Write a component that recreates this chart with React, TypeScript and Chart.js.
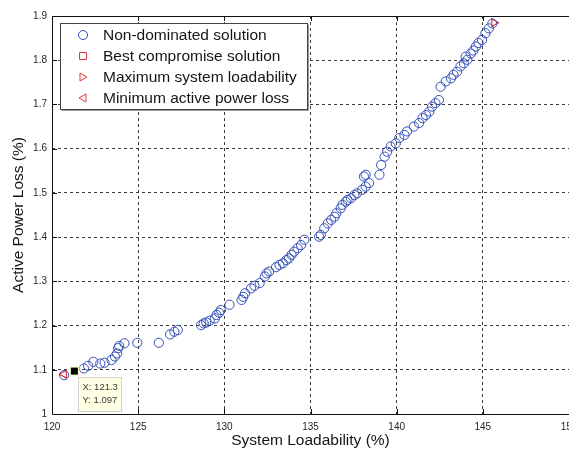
import React, { useEffect, useRef } from "react";
import { Chart, registerables } from "chart.js";

Chart.register(...registerables);

const nonDominatedX = [
  120.7, 121.85, 122.1, 122.4, 122.8, 123.05, 123.45, 123.65, 123.78, 123.84, 123.9, 124.2, 124.95,
  126.2, 126.85, 127.1, 127.3, 128.65, 128.8, 128.95, 129.15, 129.45, 129.55, 129.7, 129.8,
  130.3, 131.0, 131.1, 131.2, 131.55, 131.75, 132.05, 132.35, 132.45, 132.6, 133.0, 133.2,
  133.4, 133.6, 133.75, 133.9, 134.05, 134.25, 134.45, 134.65, 135.5, 135.6, 135.8, 136.0,
  136.2, 136.4, 136.5, 136.75, 136.85, 137.05, 137.15, 137.35, 137.55, 137.7, 138.0, 138.2,
  138.4, 138.1, 138.2, 139.0, 139.1, 139.3, 139.45, 139.65, 139.95, 140.15, 140.45, 140.6,
  141.0, 141.3, 141.5, 141.7, 141.9, 142.05, 142.25, 142.45, 142.55, 142.85, 143.15, 143.3,
  143.5, 143.7, 143.9, 144.1, 144.0, 144.3, 144.45, 144.6, 144.75, 144.95, 145.15, 145.35, 145.55,
];
const nonDominatedY = [
  1.088, 1.103, 1.109, 1.118, 1.114, 1.116, 1.122, 1.13, 1.137, 1.149, 1.154, 1.16, 1.161,
  1.161, 1.18, 1.186, 1.19, 1.201, 1.205, 1.207, 1.211, 1.216, 1.224, 1.229, 1.235,
  1.247, 1.258, 1.265, 1.273, 1.284, 1.29, 1.296, 1.311, 1.318, 1.322, 1.332, 1.337,
  1.341, 1.348, 1.352, 1.36, 1.367, 1.375, 1.382, 1.394, 1.401, 1.405, 1.42, 1.431,
  1.439, 1.446, 1.454, 1.465, 1.473, 1.48, 1.484, 1.488, 1.495, 1.499, 1.507, 1.514,
  1.522, 1.537, 1.541, 1.541, 1.563, 1.582, 1.593, 1.605, 1.612, 1.624, 1.631, 1.639,
  1.65, 1.658, 1.669, 1.676, 1.684, 1.695, 1.703, 1.71, 1.74, 1.752, 1.759, 1.767,
  1.774, 1.786, 1.793, 1.801, 1.808, 1.815, 1.822, 1.831, 1.839, 1.846, 1.861, 1.872, 1.883,
];

const bestCompromise = { x: 121.3, y: 1.097 };
const maxLoadability = { x: 145.65, y: 1.885 };
const minLoss = { x: 120.7, y: 1.09 };
const dataTip = { x: 121.3, y: 1.097 };

const seriesLabels = [
  "Non-dominated solution",
  "Best compromise solution",
  "Maximum system loadability",
  "Minimum active power loss",
];

const xTicks = [120, 125, 130, 135, 140, 145, 150];
const yTicks = [1, 1.1, 1.2, 1.3, 1.4, 1.5, 1.6, 1.7, 1.8, 1.9];

const BLUE = "#3550b8";
const RED = "#e8343c";
const FONT = "'Liberation Sans', Arial, sans-serif";

const framePlugin = {
  id: "framePlugin",
  afterDraw(chart: any) {
    const { ctx, chartArea } = chart;
    const { left, right, top, bottom } = chartArea;
    const xs = chart.scales.x;
    const ys = chart.scales.y;
    ctx.save();
    ctx.strokeStyle = "#111";
    ctx.lineWidth = 1;
    ctx.setLineDash([]);
    ctx.beginPath();
    ctx.moveTo(left + 0.5, top + 0.5);
    ctx.lineTo(right, top + 0.5);
    ctx.moveTo(left + 0.5, top);
    ctx.lineTo(left + 0.5, bottom + 0.5);
    ctx.lineTo(right, bottom + 0.5);
    ctx.stroke();
    // inward ticks
    ctx.beginPath();
    xTicks.slice(1, -1).forEach((v) => {
      const px = Math.round(xs.getPixelForValue(v)) + 0.5;
      ctx.moveTo(px, bottom);
      ctx.lineTo(px, bottom - 5);
      ctx.moveTo(px, top);
      ctx.lineTo(px, top + 5);
    });
    yTicks.slice(1, -1).forEach((v) => {
      const py = Math.round(ys.getPixelForValue(v)) + 0.5;
      ctx.moveTo(left, py);
      ctx.lineTo(left + 5, py);
    });
    ctx.stroke();

    // data tip
    const tx = xs.getPixelForValue(dataTip.x);
    const ty = ys.getPixelForValue(dataTip.y);
    const bx = Math.round(tx + 4) + 0.5;
    const by = Math.round(ty + 6) + 0.5;
    const bw = 43;
    const bh = 34;
    ctx.fillStyle = "#ffffe3";
    ctx.fillRect(bx, by, bw, bh);
    ctx.strokeStyle = "#d2d2c8";
    ctx.strokeRect(bx, by, bw, bh);
    ctx.fillStyle = "#3a3a3a";
    ctx.font = `9.5px ${FONT}`;
    ctx.textBaseline = "middle";
    ctx.textAlign = "left";
    ctx.fillText(`X: ${dataTip.x}`, bx + 4, by + 10);
    ctx.fillText(`Y: ${dataTip.y}`, bx + 4, by + 23);
    // tip marker
    ctx.fillStyle = "#fffbd0";
    ctx.fillRect(tx - 5, ty - 5, 10, 10);
    ctx.fillStyle = "#000";
    ctx.fillRect(tx - 3.5, ty - 3.5, 7, 7);

    // legend
    const lx = 60.5;
    const ly = 23.5;
    const lw = 247;
    const lh = 86;
    ctx.fillStyle = "#fff";
    ctx.fillRect(lx, ly, lw, lh);
    ctx.strokeStyle = "#9a9a9a";
    ctx.beginPath();
    ctx.moveTo(lx + lw + 1, ly + 1);
    ctx.lineTo(lx + lw + 1, ly + lh + 1);
    ctx.lineTo(lx + 1, ly + lh + 1);
    ctx.stroke();
    ctx.strokeStyle = "#444";
    ctx.strokeRect(lx, ly, lw, lh);
    const rows = [35, 56, 77, 98];
    const mx = 83;
    chart.data.datasets.slice(0, 4).forEach((ds: any, i: number) => {
      const cy = rows[i];
      ctx.strokeStyle = ds.borderColor;
      ctx.lineWidth = 1;
      ctx.beginPath();
      if (i === 0) {
        ctx.arc(mx, cy, 4.5, 0, Math.PI * 2);
      } else if (i === 1) {
        ctx.rect(mx - 3.5, cy - 3.5, 7, 7);
      } else if (i === 2) {
        ctx.moveTo(mx - 3, cy - 4);
        ctx.lineTo(mx + 4, cy);
        ctx.lineTo(mx - 3, cy + 4);
        ctx.closePath();
      } else {
        ctx.moveTo(mx + 3, cy - 4);
        ctx.lineTo(mx - 4, cy);
        ctx.lineTo(mx + 3, cy + 4);
        ctx.closePath();
      }
      ctx.stroke();
      ctx.fillStyle = "#151515";
      ctx.font = `15.5px ${FONT}`;
      ctx.textBaseline = "middle";
      ctx.textAlign = "left";
      ctx.fillText(ds.label, 103, cy + 0.5);
    });
    ctx.restore();
  },
};

export default function App() {
  const ref = useRef<HTMLCanvasElement | null>(null);
  useEffect(() => {
    if (!ref.current) return;
    const chart = new Chart(ref.current, {
      type: "scatter",
      data: {
        datasets: [
          {
            label: seriesLabels[0],
            data: nonDominatedX.map((x, i) => ({ x, y: nonDominatedY[i] })),
            pointStyle: "circle",
            pointRadius: 4.6,
            borderColor: BLUE,
            backgroundColor: "rgba(0,0,0,0)",
            borderWidth: 1,
          },
          {
            label: seriesLabels[1],
            data: [bestCompromise],
            pointStyle: "rect",
            pointRadius: 4,
            borderColor: RED,
            backgroundColor: "rgba(0,0,0,0)",
            borderWidth: 1,
          },
          {
            label: seriesLabels[2],
            data: [maxLoadability],
            pointStyle: "triangle",
            rotation: 90,
            pointRadius: 4.5,
            borderColor: RED,
            backgroundColor: "rgba(0,0,0,0)",
            borderWidth: 1.2,
          },
          {
            label: seriesLabels[3],
            data: [minLoss],
            pointStyle: "triangle",
            rotation: -90,
            pointRadius: 4.5,
            borderColor: RED,
            backgroundColor: "rgba(0,0,0,0)",
            borderWidth: 1.2,
          },
        ],
      },
      options: {
        responsive: false,
        animation: false,
        devicePixelRatio: 1,
        layout: { padding: { top: 16, right: 51, bottom: 0, left: 0 } },
        plugins: { legend: { display: false }, tooltip: { enabled: false } },
        scales: {
          x: {
            type: "linear",
            min: 120,
            max: 150,
            afterFit: (s: any) => {
              s.height = 36;
            },
            afterBuildTicks: (s: any) => {
              s.ticks = xTicks.map((v) => ({ value: v }));
            },
            ticks: {
              font: { family: FONT, size: 10 },
              color: "#262626",
              padding: 7,
              maxRotation: 0,
              callback: (v: any) => String(v),
            },
            grid: {
              drawTicks: false,
              color: (c: any) =>
                c.tick && (c.tick.value === 120 || c.tick.value === 150) ? "rgba(0,0,0,0)" : "#3a3a3a",
              lineWidth: 1,
            },
            border: { display: false, dash: [3, 3] },
            title: {
              display: true,
              text: "System Loadability (%)",
              font: { family: FONT, size: 15.5 },
              color: "#151515",
              padding: { top: 0, bottom: 0 },
            },
          },
          y: {
            type: "linear",
            min: 1,
            max: 1.9,
            afterFit: (s: any) => {
              s.width = 52;
            },
            afterBuildTicks: (s: any) => {
              s.ticks = yTicks.map((v) => ({ value: v }));
            },
            ticks: {
              font: { family: FONT, size: 10 },
              color: "#262626",
              padding: 5,
              callback: (v: any) => String(Number(Number(v).toFixed(1))),
            },
            grid: {
              drawTicks: false,
              color: (c: any) =>
                c.tick && (c.tick.value === 1 || Math.abs(c.tick.value - 1.9) < 1e-6)
                  ? "rgba(0,0,0,0)"
                  : "#3a3a3a",
              lineWidth: 1,
            },
            border: { display: false, dash: [3, 3] },
            title: {
              display: true,
              text: "Active Power Loss (%)",
              font: { family: FONT, size: 15.5 },
              color: "#151515",
              padding: { top: 9, bottom: 0 },
            },
          },
        },
      },
      plugins: [framePlugin],
    } as any);
    return () => chart.destroy();
  }, []);

  return (
    <div
      style={{
        position: "absolute",
        left: 0,
        top: 0,
        width: 569,
        height: 450,
        overflow: "hidden",
        background: "#fff",
      }}
    >
      <canvas ref={ref} width={620} height={450} style={{ width: 620, height: 450, display: "block" }} />
    </div>
  );
}
